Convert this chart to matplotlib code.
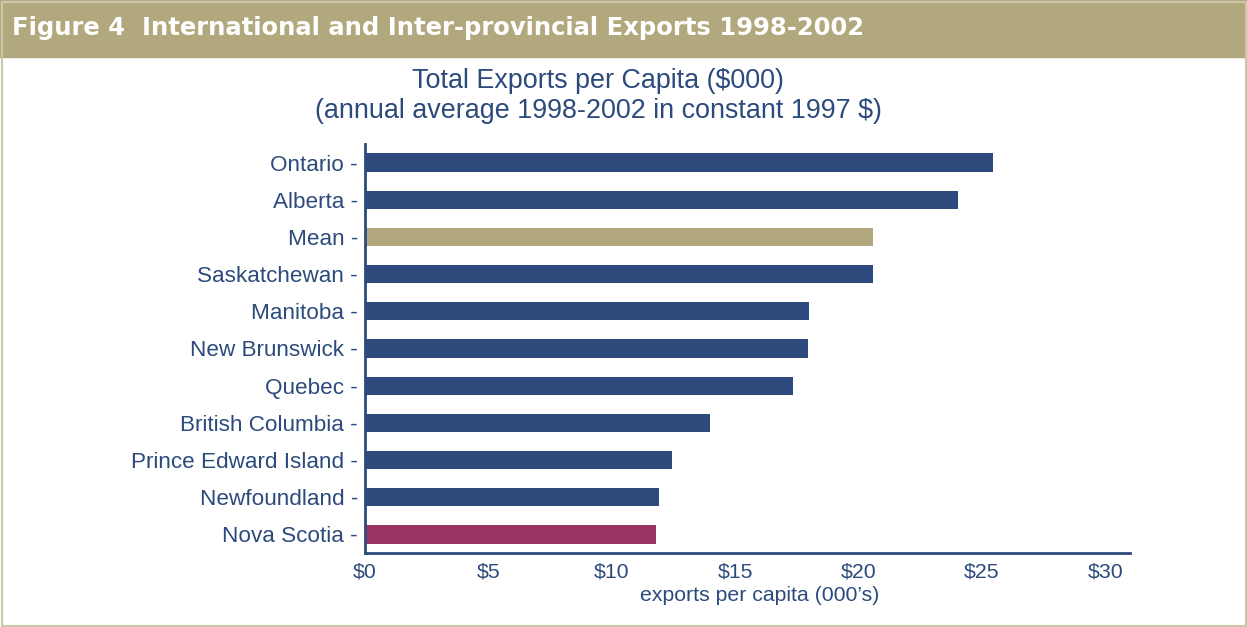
import matplotlib
matplotlib.use('Agg')
import matplotlib.pyplot as plt
from matplotlib.patches import Rectangle

# exports per capita, $000, annual average 1998-2002
provinces = ['Ontario', 'Alberta', 'Mean', 'Saskatchewan', 'Manitoba', 'New Brunswick',
             'Quebec', 'British Columbia', 'Prince Edward Island', 'Newfoundland', 'Nova Scotia']
exports = [25.45, 24.05, 20.6, 20.6, 18.0, 17.95, 17.35, 14.0, 12.45, 11.9, 11.8]
xticks = [0, 5, 10, 15, 20, 25, 30]
xticklabels = [r'\$0', r'\$5', r'\$10', r'\$15', r'\$20', r'\$25', r'\$30']

navy = '#2c4a7c'
khaki = '#b2a87e'
plum = '#9b3462'
colors = [khaki if p == 'Mean' else plum if p == 'Nova Scotia' else navy for p in provinces]

plt.rcParams['font.family'] = ['Liberation Sans', 'DejaVu Sans']

W, H = 1247, 627
fig = plt.figure(figsize=(W / 100, H / 100), dpi=100)

# header band and frame
fig.patches.append(Rectangle((0, 1 - 57 / H), 1, 57 / H, transform=fig.transFigure,
                             color=khaki, zorder=0))
fig.patches.append(Rectangle((1.5 / W, 1.5 / H), 1 - 3 / W, 1 - 3 / H, transform=fig.transFigure,
                             fill=False, edgecolor='#cdc7aa', lw=1.5, zorder=0))
fig.text(12 / W, 1 - 28 / H, 'Figure 4  International and Inter-provincial Exports 1998-2002',
         color='white', fontsize=17.5, fontweight='bold', family='DejaVu Sans', va='center')

fig.text(598 / W, 1 - 81 / H, r'Total Exports per Capita (\$000)', color=navy,
         fontsize=19.4, ha='center', va='center')
fig.text(598 / W, 1 - 111 / H, r'(annual average 1998-2002 in constant 1997 \$)', color=navy,
         fontsize=19.4, ha='center', va='center')

ax = fig.add_axes([365 / W, (H - 553) / H, (1130 - 365) / W, (553 - 144) / H])
y = list(range(len(provinces)))
ax.barh(y, exports, height=0.49, color=colors)
ax.set_ylim(len(provinces) - 0.5, -0.5)
ax.set_xlim(0, 31)
ax.set_yticks(y)
ax.set_yticklabels([p + ' -' for p in provinces], color=navy, fontsize=16.2)
ax.set_xticks(xticks)
ax.set_xticklabels(xticklabels, color=navy, fontsize=15.3)
ax.tick_params(length=0)
ax.tick_params(axis='y', pad=5)
ax.tick_params(axis='x', pad=7)
for s in ['top', 'right']:
    ax.spines[s].set_visible(False)
for s in ['left', 'bottom']:
    ax.spines[s].set_color(navy)
    ax.spines[s].set_linewidth(2)
ax.set_xlabel("exports per capita (000’s)", color=navy, fontsize=15.3, labelpad=3)
ax.xaxis.label.set_x((760 - 365) / (1130 - 365))

fig.savefig('out.png', dpi=100)
